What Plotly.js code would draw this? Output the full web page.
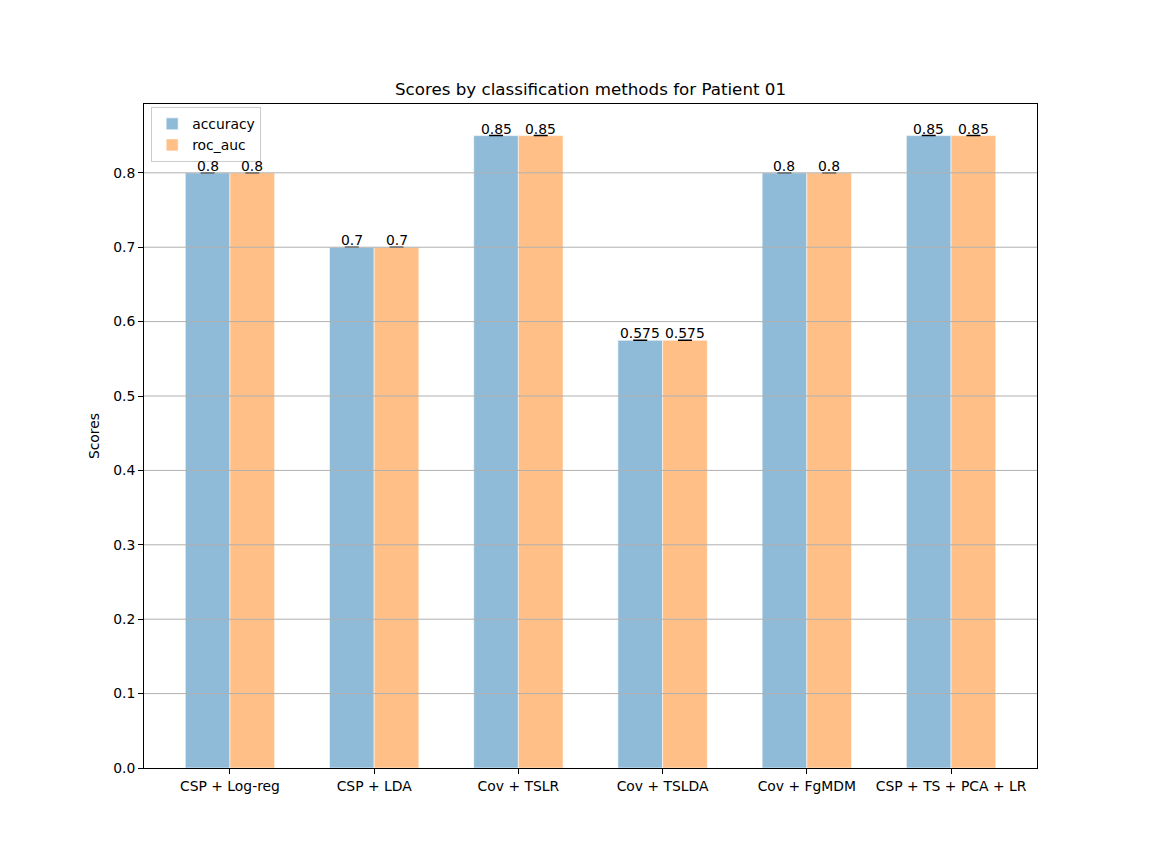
<!DOCTYPE html>
<html>
<head>
<meta charset="utf-8">
<script src="https://cdn.plot.ly/plotly-3.0.1.min.js"></script>
<style>html,body{margin:0;padding:0;background:#fff;}</style>
</head>
<body>
<div id="chart" style="width:1152px;height:863px;"></div>
<script>
var methods = ["CSP + Log-reg", "CSP + LDA", "Cov + TSLR", "Cov + TSLDA", "Cov + FgMDM", "CSP + TS + PCA + LR"];
var accuracy = [0.8, 0.7, 0.85, 0.575, 0.8, 0.85];
var rocAuc = [0.8, 0.7, 0.85, 0.575, 0.8, 0.85];
var accuracyErr = [0, 0, 0, 0, 0, 0];
var rocAucErr = [0, 0, 0, 0, 0, 0];
var yTicks = [0.0, 0.1, 0.2, 0.3, 0.4, 0.5, 0.6, 0.7, 0.8];

var font = "DejaVu Sans, sans-serif";
var W = 1152, H = 863;
var margin = {l: 144, r: 115, t: 104, b: 95, pad: 0};
var xRange = [-0.596, 5.596];
var bargap = 0.38;

function barTrace(name, vals, errs, color) {
  return {
    type: "bar",
    name: name,
    x: methods,
    y: vals,
    marker: {color: color, line: {color: "rgba(255,255,255,0.6)", width: 1}},
    error_y: {type: "data", array: errs, visible: true, color: "#000", thickness: 1.5, width: 7},
    hoverinfo: "skip"
  };
}

var data = [
  barTrace("accuracy", accuracy, accuracyErr, "rgba(31,119,180,0.5)"),
  barTrace("roc_auc", rocAuc, rocAucErr, "rgba(255,127,14,0.5)")
];

// value labels: centred over each bar of the group
var pxPerCat = (W - margin.l - margin.r) / (xRange[1] - xRange[0]);
var halfBarPx = (1 - bargap) / 4 * pxPerCat;
var annotations = [];
methods.forEach(function(m, i){
  [[accuracy, -halfBarPx], [rocAuc, halfBarPx]].forEach(function(s){
    annotations.push({x: m, y: s[0][i], xref: "x", yref: "y", text: String(s[0][i]),
      showarrow: false, xanchor: "center", yanchor: "bottom", xshift: s[1], yshift: -3,
      font: {family: font, size: 13.9, color: "#000"}});
  });
});

var gridShapes = yTicks.filter(function(v){return v > 0;}).map(function(v){
  return {type: "line", xref: "paper", x0: 0, x1: 1, yref: "y", y0: v, y1: v,
          line: {color: "#b0b0b0", width: 1}, layer: "above"};
});

var layout = {
  width: W, height: H,
  paper_bgcolor: "#fff", plot_bgcolor: "#fff",
  margin: margin,
  font: {family: font, size: 13.9, color: "#000"},
  title: {text: "Scores by classification methods for Patient 01", font: {family: font, size: 16.7, color: "#000"},
          x: 0.5, xanchor: "center", xref: "paper", y: 1 - 89/H, yanchor: "middle"},
  barmode: "group",
  bargap: bargap,
  bargroupgap: 0,
  showlegend: true,
  legend: {x: 0.008, y: 0.995, xanchor: "left", yanchor: "top", bgcolor: "rgba(255,255,255,0.8)",
           bordercolor: "#cccccc", borderwidth: 1, font: {family: font, size: 13.9},
           tracegroupgap: 0, itemwidth: 30},
  xaxis: {type: "category", range: xRange, showgrid: false, zeroline: false,
          showline: true, linecolor: "#000", linewidth: 1, mirror: true,
          ticks: "outside", ticklen: 5, tickwidth: 1, tickcolor: "#000",
          tickfont: {family: font, size: 13.9}},
  yaxis: {range: [0, 0.8925], tickvals: yTicks, tickformat: ".1f", showgrid: false, zeroline: false,
          showline: true, linecolor: "#000", linewidth: 1, mirror: true,
          ticks: "outside", ticklen: 5, tickwidth: 1, tickcolor: "#000",
          tickfont: {family: font, size: 13.9},
          title: {text: "Scores", font: {family: font, size: 13.9}, standoff: 10}},
  shapes: gridShapes,
  annotations: annotations
};

Plotly.newPlot("chart", data, layout, {displayModeBar: false, staticPlot: true});
</script>
</body>
</html>
